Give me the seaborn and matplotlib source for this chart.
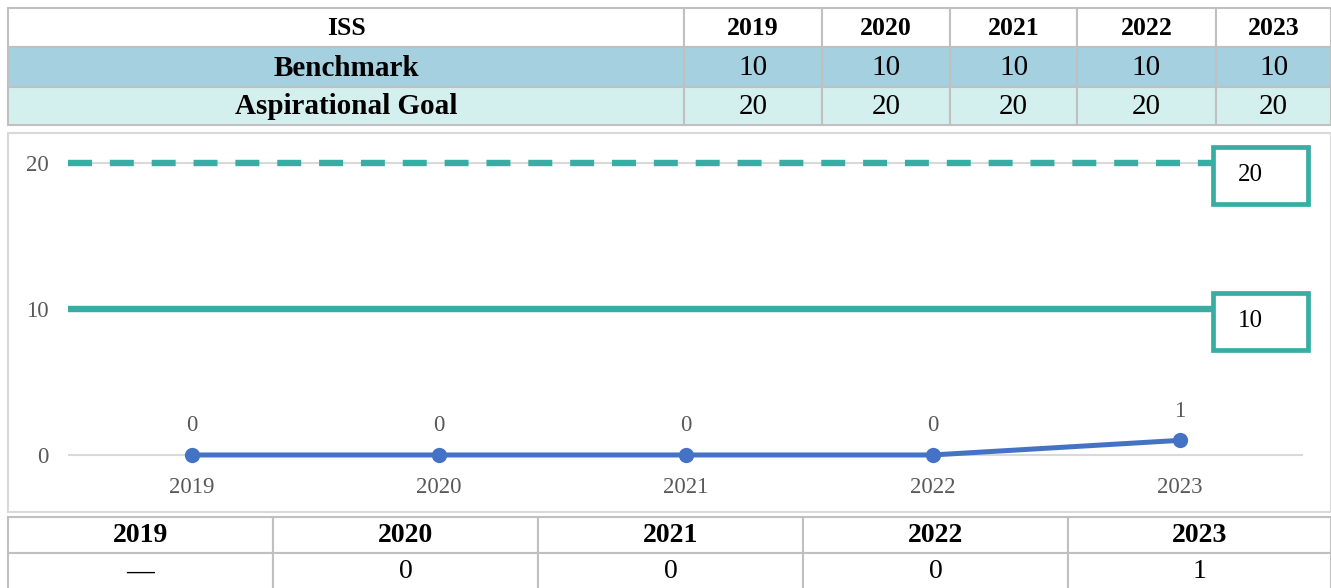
import matplotlib
matplotlib.use("Agg")
import matplotlib.pyplot as plt
import matplotlib.transforms as mtransforms
from matplotlib.patches import Rectangle
import pandas as pd
import seaborn as sns

# data
years = ["2019", "2020", "2021", "2022", "2023"]
actual = [0, 0, 0, 0, 1]
actual_table = ["—", "0", "0", "0", "1"]
benchmark = [10, 10, 10, 10, 10]
aspirational = [20, 20, 20, 20, 20]
table_title = "ISS"
row_labels = ["Benchmark", "Aspirational Goal"]

teal = "#38ADA3"
blue = "#4472C4"
grey_text = "#595959"
border = "#C0C0C0"

sns.set_theme(style="white")
plt.rcParams["font.family"] = ["Liberation Serif", "DejaVu Serif"]

W, H = 1331, 588
fig = plt.figure(figsize=(W / 100, H / 100), dpi=100)

# pixel canvas for tables and chart frame
bg = fig.add_axes([0, 0, 1, 1])
bg.set_xlim(0, W)
bg.set_ylim(H, 0)
bg.axis("off")


def cell(x0, x1, y0, y1, fc):
    bg.add_patch(Rectangle((x0, y0), x1 - x0, y1 - y0, facecolor=fc,
                           edgecolor=border, lw=1.5))


# top table
top_cols = [8, 684, 822, 950, 1077, 1216, 1331]
top_rows = [8, 47, 87, 125]
row_fills = ["white", "#A5D0E0", "#D4F0EE"]
top_text = [[table_title] + years,
            [row_labels[0]] + [str(v) for v in benchmark],
            [row_labels[1]] + [str(v) for v in aspirational]]
for r in range(3):
    y0, y1 = top_rows[r], top_rows[r + 1]
    for c in range(6):
        x0, x1 = top_cols[c], top_cols[c + 1]
        cell(x0, x1, y0, y1, row_fills[r])
        bold = (r == 0) or (c == 0)
        size = 18.5 if r == 0 else 21
        bg.text((x0 + x1) / 2, (y0 + y1) / 2 + 1, top_text[r][c],
                ha="center", va="center", fontsize=size,
                fontweight="bold" if bold else "normal", color="black")

# chart frame
bg.add_patch(Rectangle((8, 133), W - 8, 512 - 133, facecolor="white",
                       edgecolor="#D9D9D9", lw=1.5))

# bottom table
bot_cols = [8, 273, 538, 803, 1068, 1331]
bot_rows = [517, 553, 592]
for c in range(5):
    x0, x1 = bot_cols[c], bot_cols[c + 1]
    cell(x0, x1, bot_rows[0], bot_rows[1], "white")
    cell(x0, x1, bot_rows[1], bot_rows[2], "white")
    bg.text((x0 + x1) / 2, (bot_rows[0] + bot_rows[1]) / 2 + 1, years[c],
            ha="center", va="center", fontsize=20, fontweight="bold",
            color="black")
    dash = actual_table[c] == "—"
    bg.text((x0 + x1) / 2, 572, actual_table[c],
            ha="center", va="center", fontsize=20, color="black",
            fontweight="bold" if dash else "normal")


def frac(x0, y0, x1, y1):
    return [x0 / W, 1 - y1 / H, (x1 - x0) / W, (y1 - y0) / H]


# chart
ax = fig.add_axes(frac(68, 140, 1303, 470))
ax.set_facecolor("none")
df = pd.DataFrame({"year": years, "value": actual})
sns.lineplot(data=df, x="year", y="value", ax=ax, color=blue, lw=3.6,
             marker="o", markersize=11, markeredgewidth=0, zorder=4)
for i, v in enumerate(actual):
    ax.annotate(str(v), (i, v), xytext=(0, 21), textcoords="offset points",
                ha="center", va="center", fontsize=16.5, color=grey_text)

ax2 = ax.twiny()
ax2.set_xlim(0, len(benchmark) - 1)
sns.lineplot(x=list(range(len(benchmark))), y=benchmark, ax=ax2,
             color=teal, lw=4.6)
sns.lineplot(x=list(range(len(aspirational))), y=aspirational, ax=ax2,
             color=teal, lw=4.6, linestyle=(0, (3.75, 2.8)))
ax2.set_xticks([])
for s in ax2.spines.values():
    s.set_visible(False)

ax.set_xlim(-0.5, 4.5)
ax.set_ylim(-1.03, 21.58)
ax.set_yticks([0, 10, 20])
ax.grid(axis="y", color="#D9D9D9", lw=1.5)
ax.set_axisbelow(True)
ax.set_xlabel("")
ax.set_ylabel("")
ax2.set_ylabel("")
sns.despine(ax=ax, left=True, bottom=True)
ax.tick_params(axis="y", length=0, pad=14, labelsize=16.5, labelcolor=grey_text)
ax.tick_params(axis="x", length=0, pad=5, labelsize=16.5, labelcolor=grey_text)

# end labels for the target lines
blend = mtransforms.blended_transform_factory(ax2.transAxes, ax2.transData)
for val in [aspirational[-1], benchmark[-1]]:
    c = val - 0.85
    ax2.add_patch(Rectangle((0.927, c - 1.95), 0.077, 3.9, transform=blend,
                            facecolor="white", edgecolor=teal, lw=3.4,
                            clip_on=False, zorder=5))
    ax2.text(0.957, c, str(val), transform=blend, ha="center", va="center",
             fontsize=18, color="black", zorder=6)

fig.savefig("out.png", dpi=100)
